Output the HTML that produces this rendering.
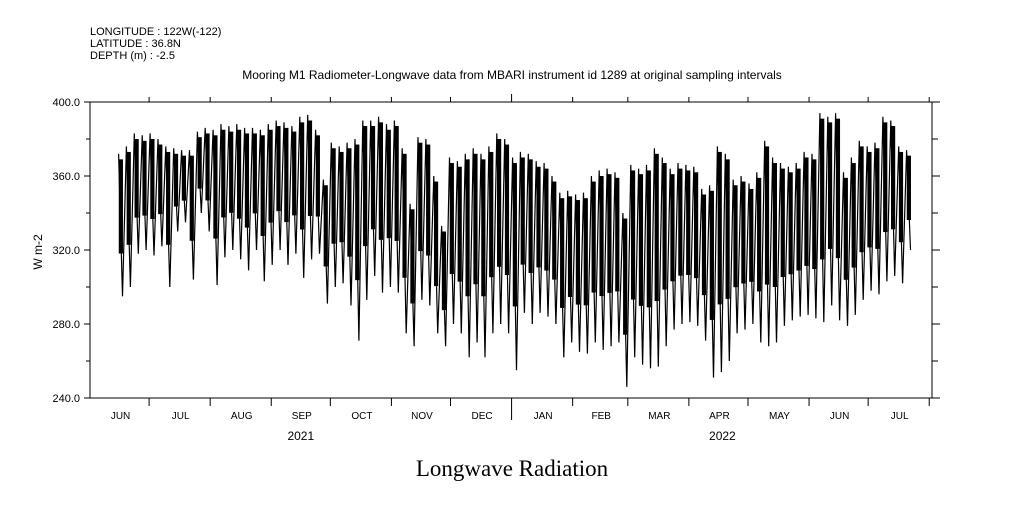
<!DOCTYPE html>
<html><head><meta charset="utf-8"><style>
body{margin:0;background:#fff;}
svg text{font-family:"Liberation Sans",sans-serif;fill:#000;}
</style></head><body>
<svg width="1009" height="504" viewBox="0 0 1009 504" xmlns="http://www.w3.org/2000/svg">
<rect width="1009" height="504" fill="#fff"/>
<g font-size="11">
<text x="90" y="35">LONGITUDE : 122W(-122)</text>
<text x="90" y="47">LATITUDE : 36.8N</text>
<text x="90" y="59">DEPTH (m) : -2.5</text>
</g>
<text x="512" y="79" text-anchor="middle" font-size="12">Mooring M1 Radiometer-Longwave data from MBARI instrument id 1289 at original sampling intervals</text>
<text x="42" y="252" text-anchor="middle" font-size="12" transform="rotate(-90 42 252)">W m-2</text>
<text x="512" y="476" text-anchor="middle" font-size="23" style="font-family:'Liberation Serif',serif">Longwave Radiation</text>
<g id="axes"></g>
<g id="bands"></g>
<path id="series" fill="none" stroke="#000" stroke-width="1.2"/>
<rect x="90" y="102" width="842" height="296" fill="none" stroke="#000" stroke-width="1"/>
</svg>
<script>
const yTicks=[240,280,320,360,400];
const monthLabels=["JUN","JUL","AUG","SEP","OCT","NOV","DEC","JAN","FEB","MAR","APR","MAY","JUN","JUL"];
const monthStartDays=[0,30,61,92,122,153,183,214,245,273,304,334,365,395,426];
const yearLabels=["2021","2022"];
const yearCenterDays=[107,321];
const binStartDay=14, binDays=4;
const hiVals=[372,376,383,382,383,380,376,375,374,374,384,386,385,388,387,388,386,386,385,388,390,389,387,392,393,385,358,378,376,378,380,390,390,392,388,390,375,345,381,380,360,333,370,368,372,375,372,376,383,380,370,373,372,368,367,360,351,352,350,351,360,363,364,362,340,366,364,366,375,370,364,367,366,365,353,355,376,372,358,360,356,362,379,370,367,365,367,373,372,394,392,394,362,370,379,376,378,392,390,376,374];
const loVals=[295,300,318,320,317,322,300,330,335,304,340,330,301,316,320,315,309,320,303,312,320,312,318,305,315,318,291,300,302,290,271,293,306,297,300,297,275,268,293,290,275,268,280,275,262,270,262,275,280,275,255,286,280,286,284,280,262,270,265,264,270,266,268,270,246,262,258,256,257,268,277,280,281,279,271,251,254,260,275,277,280,270,268,270,279,282,284,285,283,281,290,282,279,285,293,298,296,303,306,302,320];
const X0=90,PXD=1.97;
const xs=d=>X0+d*PXD;
const ys=v=>398-(v-240)*(296/160);
const NS="http://www.w3.org/2000/svg";
const ax=document.getElementById('axes');
const bands=document.getElementById('bands');
function mk(tag,attrs,parent){const e=document.createElementNS(NS,tag);for(const k in attrs)e.setAttribute(k,attrs[k]);(parent||ax).appendChild(e);return e;}
for(let v=240;v<=400;v+=20){
  const major=yTicks.includes(v);
  const l=mk('line',{x1:major?84:86,x2:90,y1:ys(v),y2:ys(v),stroke:'#000'});
  
  
  const r=mk('line',{x1:932,x2:major?940:938,y1:ys(v),y2:ys(v),stroke:'#000'});
  
  
}
yTicks.forEach(v=>{const t=mk('text',{x:80,y:ys(v)+4,'text-anchor':'end','font-size':'11'});t.textContent=v.toFixed(1);
  
  });
monthStartDays.forEach((d,i)=>{
  if(i===0||d>427)return;
  const yr=(d===214);
  const tb=mk('line',{x1:xs(d),x2:xs(d),y1:398,y2:yr?420:406,stroke:'#000'});
  
  
  const tt=mk('line',{x1:xs(d),x2:xs(d),y1:102,y2:yr?94:97,stroke:'#000'});
  
  
});
monthLabels.forEach((m,i)=>{
  const c=(monthStartDays[i]+monthStartDays[i+1])/2;
  const t=mk('text',{x:xs(c)+1,y:419,'text-anchor':'middle','font-size':'10'});t.textContent=m;
  
  
});
yearLabels.forEach((y,i)=>{const t=mk('text',{x:xs(yearCenterDays[i]),y:440,'text-anchor':'middle','font-size':'12'});t.textContent=y;
  
  });
let p='';
hiVals.forEach((h,i)=>{
  const d=binStartDay+i*binDays;
  const lo=loVals[i];
  const core=lo+(h-lo)*0.3;
  const r=mk('rect',{x:xs(d+0.6),y:ys(h-3),width:4.2,height:ys(core)-ys(h-3),fill:'#000'},bands);
  
  
  p+=(i?'L':'M')+xs(d+0.5).toFixed(1)+','+ys(h).toFixed(1)+'L'+xs(d+2.5).toFixed(1)+','+ys(lo).toFixed(1);
});
document.getElementById('series').setAttribute('d',p);
</script>
</body></html>
